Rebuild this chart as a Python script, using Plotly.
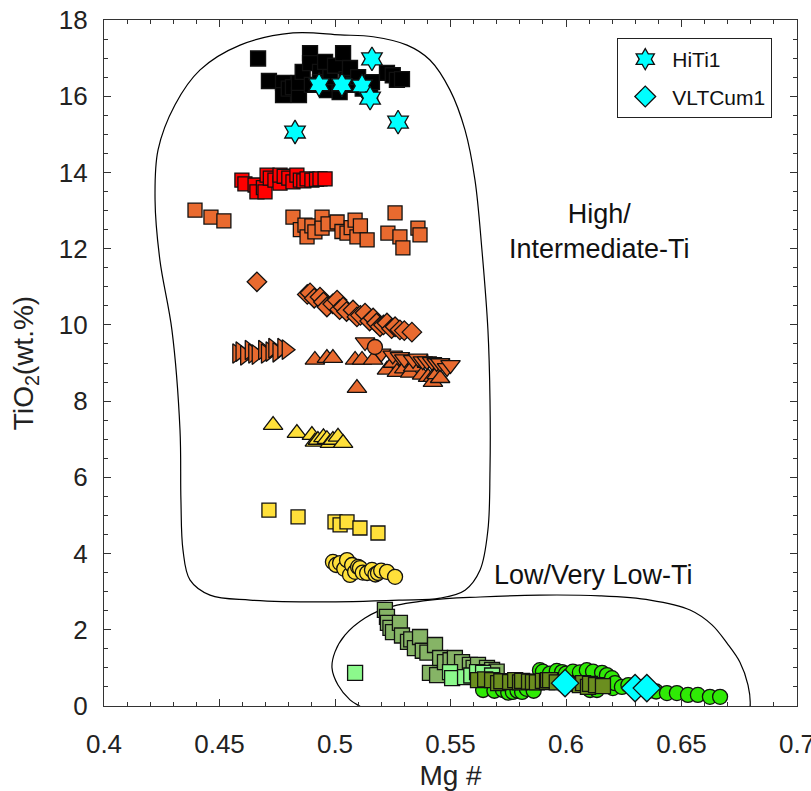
import plotly.graph_objects as go

# ---- sample groups: Mg# (x) vs TiO2 wt.% (y) ----
black_sq_x = [0.4667, 0.4714, 0.4775, 0.4775, 0.4800, 0.4818, 0.4844, 0.4844, 0.4860, 0.4892,
              0.4892, 0.4900, 0.4935, 0.4935, 0.4957, 0.4965, 0.4980, 0.5000, 0.5020, 0.5035,
              0.5050, 0.5065, 0.5080, 0.5100, 0.5120, 0.5152, 0.5160, 0.5225, 0.5250, 0.5268, 0.5290]
black_sq_y = [16.99, 16.40, 16.35, 16.03, 16.20, 16.24, 16.03, 16.35, 16.64, 17.13,
              16.87, 16.30, 16.64, 16.37, 16.90, 16.16, 16.50, 16.80, 16.11, 17.13,
              16.45, 16.74, 16.30, 16.50, 16.20, 16.11, 16.37, 16.61, 16.55, 16.43, 16.45]

hiti1_x = [0.4827, 0.4931, 0.5030, 0.5117, 0.5152, 0.5160, 0.5273]
hiti1_y = [15.06, 16.30, 16.30, 16.27, 15.95, 16.98, 15.32]

red_sq_x = [0.4597, 0.4610, 0.4654, 0.4662, 0.4690, 0.4697, 0.4706, 0.4720, 0.4740, 0.4762, 0.4762,
            0.4780, 0.4800, 0.4818, 0.4835, 0.4850, 0.4865, 0.4879, 0.4900, 0.4920, 0.4935, 0.4957]
red_sq_y = [13.80, 13.70, 13.67, 13.49, 13.60, 13.49, 13.93, 13.85, 13.80, 13.72, 13.93,
            13.90, 13.85, 13.75, 13.93, 13.80, 13.78, 13.83, 13.80, 13.82, 13.83, 13.83]

orange_sq_x = [0.4394, 0.4463, 0.4519, 0.4818, 0.4850, 0.4870, 0.4879, 0.4900, 0.4913, 0.4944, 0.4944,
               0.4970, 0.5009, 0.5030, 0.5052, 0.5070, 0.5087, 0.5095, 0.5110, 0.5139, 0.5229,
               0.5260, 0.5281, 0.5294, 0.5359, 0.5368]
orange_sq_y = [13.01, 12.83, 12.73, 12.83, 12.50, 12.62, 12.31, 12.60, 12.44, 12.83, 12.54,
               12.65, 12.70, 12.45, 12.41, 12.55, 12.75, 12.31, 12.60, 12.23, 12.41,
               12.94, 12.31, 12.02, 12.54, 12.36]

orange_dia_x = [0.4662, 0.4880, 0.4892, 0.4910, 0.4935, 0.4950, 0.4965, 0.4990, 0.5009, 0.5020,
                0.5035, 0.5050, 0.5078, 0.5095, 0.5110, 0.5130, 0.5150, 0.5165, 0.5180, 0.5195,
                0.5210, 0.5225, 0.5245, 0.5260, 0.5281, 0.5300, 0.5333]
orange_dia_y = [11.13, 10.80, 10.84, 10.70, 10.73, 10.60, 10.47, 10.55, 10.65, 10.40,
                10.47, 10.35, 10.39, 10.21, 10.25, 10.31, 10.10, 10.18, 10.05, 9.95,
                10.00, 10.05, 9.90, 9.95, 9.87, 9.85, 9.81]

orange_tri_r_x = [0.4576, 0.4590, 0.4610, 0.4630, 0.4645, 0.4660, 0.4688, 0.4700, 0.4720, 0.4732,
                  0.4750, 0.4771, 0.4790]
orange_tri_r_y = [9.25, 9.30, 9.20, 9.34, 9.25, 9.22, 9.34, 9.25, 9.30, 9.39, 9.28, 9.39, 9.35]

orange_tri_u_x = [0.4913, 0.4965, 0.4991, 0.5087, 0.5095, 0.5117, 0.5165, 0.5225, 0.5251, 0.5268,
                  0.5300, 0.5325, 0.5338, 0.5377, 0.5398, 0.5403, 0.5424, 0.5424, 0.5440, 0.5455]
orange_tri_u_y = [9.08, 9.13, 9.13, 9.08, 8.34, 9.08, 9.08, 8.82, 9.00, 8.76,
                  8.85, 8.74, 8.90, 8.69, 9.00, 8.63, 8.63, 8.50, 8.70, 8.60]

orange_tri_d_x = [0.5130, 0.5200, 0.5250, 0.5281, 0.5300, 0.5338, 0.5360, 0.5380, 0.5398, 0.5420,
                  0.5440, 0.5455, 0.5485, 0.5500]
orange_tri_d_y = [9.55, 9.25, 9.20, 9.16, 9.10, 9.08, 9.12, 9.05, 9.05, 9.03, 9.00, 9.00, 8.87, 8.95]

orange_circ_x = [0.5173]
orange_circ_y = [9.42]

yellow_tri_x = [0.4732, 0.4835, 0.4900, 0.4913, 0.4926, 0.4950, 0.4965, 0.4978, 0.4991, 0.5013, 0.5035]
yellow_tri_y = [7.37, 7.16, 7.11, 6.93, 6.98, 7.05, 7.00, 6.90, 6.98, 7.06, 6.90]

yellow_sq_x = [0.4714, 0.4840, 0.5000, 0.5022, 0.5052, 0.5108, 0.5186]
yellow_sq_y = [5.14, 4.96, 4.83, 4.75, 4.83, 4.67, 4.54]

yellow_circ_x = [0.4991, 0.5005, 0.5022, 0.5040, 0.5052, 0.5065, 0.5074, 0.5087, 0.5100, 0.5108,
                 0.5120, 0.5139, 0.5160, 0.5175, 0.5186, 0.5200, 0.5225, 0.5260]
yellow_circ_y = [3.78, 3.70, 3.75, 3.60, 3.83, 3.44, 3.70, 3.52, 3.65, 3.62,
                 3.50, 3.49, 3.57, 3.45, 3.49, 3.55, 3.52, 3.39]

green_circ_x = [0.5641, 0.5690, 0.5727, 0.5750, 0.5770, 0.5790, 0.5810, 0.5830, 0.5860, 0.5887,
                0.5900, 0.5930, 0.5960, 0.5983, 0.6000, 0.6030, 0.6060, 0.6090, 0.6104, 0.6117,
                0.6134, 0.6156, 0.6177, 0.6199, 0.6203, 0.6212, 0.6242, 0.6270, 0.6300, 0.6330,
                0.6360, 0.6390, 0.6437, 0.6480, 0.6528, 0.6571, 0.6623, 0.6667]
green_circ_y = [0.42, 0.40, 0.42, 0.35, 0.37, 0.40, 0.37, 0.45, 0.40, 0.94,
                0.90, 0.85, 0.92, 0.89, 0.85, 0.90, 0.88, 0.94, 0.42, 0.90,
                0.42, 0.87, 0.81, 0.73, 0.47, 0.60, 0.50, 0.55, 0.45, 0.50,
                0.40, 0.38, 0.34, 0.34, 0.29, 0.29, 0.24, 0.24]

sage_sq_x = [0.5216, 0.5225, 0.5229, 0.5240, 0.5251, 0.5281, 0.5290, 0.5316, 0.5330, 0.5346,
             0.5368, 0.5380, 0.5400, 0.5411, 0.5433, 0.5442, 0.5455, 0.5476, 0.5500, 0.5519,
             0.5550, 0.5584, 0.5600, 0.5619, 0.5658, 0.5680, 0.5700]
sage_sq_y = [2.52, 2.34, 2.18, 2.05, 1.94, 2.18, 1.85, 1.68, 1.75, 1.52,
             1.81, 1.45, 1.40, 0.87, 1.60, 0.81, 1.26, 1.15, 1.20, 1.26,
             1.15, 1.08, 1.00, 1.08, 1.00, 0.95, 0.90]

light_sq_x = [0.5087, 0.5498, 0.5507, 0.5563, 0.5590, 0.5615, 0.5641, 0.5680]
light_sq_y = [0.87, 0.89, 0.73, 0.76, 0.80, 0.89, 0.87, 0.80]

olive_sq_x = [0.5619, 0.5650, 0.5680, 0.5706, 0.5720, 0.5758, 0.5780, 0.5801, 0.5810, 0.5840,
              0.5857, 0.5874, 0.5900, 0.5918, 0.5922, 0.5931, 0.5960, 0.6000, 0.6030, 0.6060,
              0.6074, 0.6095, 0.6104, 0.6130, 0.6160]
olive_sq_y = [0.68, 0.70, 0.68, 0.60, 0.65, 0.63, 0.68, 0.62, 0.66, 0.64,
              0.63, 0.62, 0.66, 0.63, 0.68, 0.68, 0.62, 0.60, 0.58, 0.55,
              0.60, 0.50, 0.58, 0.55, 0.52]

vltcum1_x = [0.5996, 0.6299, 0.6350]
vltcum1_y = [0.60, 0.47, 0.47]

# ---- field outlines (data units) ----
high_ti_field_x = [0.4818, 0.5022, 0.5165, 0.5312, 0.5411, 0.5498, 0.5563, 0.5606, 0.5636, 0.5662,
                   0.5671, 0.5671, 0.5662, 0.5628, 0.5563, 0.5455, 0.5281, 0.4935, 0.4632, 0.4459,
                   0.4372, 0.4342, 0.4333, 0.4329, 0.4294, 0.4242, 0.4221, 0.4234, 0.4307, 0.4416,
                   0.4589, 0.4818]
high_ti_field_y = [17.66, 17.61, 17.56, 17.34, 16.95, 16.16, 15.11, 13.80, 11.97, 9.87,
                   8.03, 6.19, 4.62, 3.57, 3.04, 2.83, 2.78, 2.73, 2.78, 2.91,
                   3.31, 4.09, 5.41, 7.24, 9.87, 11.70, 13.28, 14.59, 15.77, 16.69,
                   17.34, 17.66]

low_ti_field_x = [0.5887, 0.6147, 0.6364, 0.6537, 0.6632, 0.6697, 0.6753, 0.6788, 0.6797, 0.6775,
                  0.6667, 0.6364, 0.5714, 0.5281, 0.5130, 0.5065, 0.5013, 0.4987, 0.5000, 0.5043,
                  0.5130, 0.5238, 0.5411, 0.5628, 0.5887]
low_ti_field_y = [2.91, 2.89, 2.78, 2.52, 2.13, 1.65, 1.15, 0.55, 0.00, -0.50,
                  -0.90, -1.29, -1.42, -1.02, -0.10, 0.16, 0.55, 1.00, 1.42, 1.86,
                  2.31, 2.60, 2.78, 2.86, 2.91]

x_ticks = [0.4, 0.45, 0.5, 0.55, 0.6, 0.65, 0.7]
x_tick_text = ["0.4", "0.45", "0.5", "0.55", "0.6", "0.65", "0.7"]
y_ticks = [0, 2, 4, 6, 8, 10, 12, 14, 16, 18]

FONT = "Liberation Sans, Arial, sans-serif"
EDGE = dict(color="#111111", width=1.3)
ORANGE = "#E96A2F"
YELLOW = "#FFE03A"

fig = go.Figure()

# outlines
for fx, fy in [(high_ti_field_x, high_ti_field_y), (low_ti_field_x, low_ti_field_y)]:
    fig.add_trace(go.Scatter(x=fx, y=fy, mode="lines", line=dict(color="black", width=1.2, shape="spline"),
                             hoverinfo="skip", showlegend=False))


def group(x, y, symbol, color, size, name=None, legend=False):
    fig.add_trace(go.Scatter(
        x=x, y=y, mode="markers", name=name, showlegend=legend, legendgroup=name,
        marker=dict(symbol=symbol, color=color, size=size, line=EDGE),
    ))


group(black_sq_x, black_sq_y, "square", "black", 15)
group(red_sq_x, red_sq_y, "square", "#FF0000", 14)
group(orange_sq_x, orange_sq_y, "square", ORANGE, 14)
group(orange_tri_r_x, orange_tri_r_y, "triangle-right", ORANGE, 17)
group(orange_tri_u_x, orange_tri_u_y, "triangle-up", ORANGE, 17)
group(orange_tri_d_x, orange_tri_d_y, "triangle-down", ORANGE, 17)
group(orange_dia_x, orange_dia_y, "diamond", ORANGE, 15)
group(orange_circ_x, orange_circ_y, "circle", ORANGE, 15)
group(yellow_tri_x, yellow_tri_y, "triangle-up", YELLOW, 17)
group(yellow_sq_x, yellow_sq_y, "square", YELLOW, 14)
group(yellow_circ_x, yellow_circ_y, "circle", YELLOW, 15)
group(green_circ_x, green_circ_y, "circle", "#2FEA05", 15)
group(sage_sq_x, sage_sq_y, "square", "#86B466", 15)
group(light_sq_x, light_sq_y, "square", "#8CF98C", 15)
group(olive_sq_x, olive_sq_y, "square", "#6B8E1F", 15)
group(hiti1_x, hiti1_y, "hexagram", "#00FFFF", 18, name="HiTi1", legend=True)
group(vltcum1_x, vltcum1_y, "diamond", "#00FFFF", 21, name="VLTCum1", legend=True)

fig.add_annotation(x=0.6147, y=12.44, text="High/<br>Intermediate-Ti", showarrow=False,
                   font=dict(family=FONT, size=27, color="#111"), align="center")
fig.add_annotation(x=0.6117, y=3.44, text="Low/Very Low-Ti", showarrow=False,
                   font=dict(family=FONT, size=27, color="#111"))

axis_common = dict(showline=True, linecolor="#333", linewidth=1.2, mirror="ticks", ticks="inside",
                   ticklen=7, tickwidth=1, tickcolor="#333", showgrid=False, zeroline=False,
                   ticklabeloverflow="allow", automargin=False,
                   tickfont=dict(family=FONT, size=26, color="#222"))

fig.update_xaxes(range=[0.4, 0.7], tickvals=x_ticks, ticktext=x_tick_text,
                 minor=dict(ticks="inside", ticklen=4, dtick=0.01, tickcolor="#333"),
                 title=dict(text="Mg #", font=dict(family=FONT, size=28, color="#222"), standoff=16),
                 ticklabelstandoff=15, **axis_common)
fig.update_yaxes(range=[0, 18], tickvals=y_ticks,
                 minor=dict(ticks="inside", ticklen=4, dtick=0.5, tickcolor="#333"),
                 title=dict(text="TiO<sub>2</sub>(wt.%)", font=dict(family=FONT, size=28, color="#222"),
                            standoff=16),
                 ticklabelstandoff=10, **axis_common)

fig.update_layout(
    width=811, height=791,
    margin=dict(l=104, r=14, t=20, b=85, autoexpand=False),
    plot_bgcolor="white", paper_bgcolor="white",
    font=dict(family=FONT),
    legend=dict(x=0.964, y=0.974, xanchor="right", yanchor="top", bgcolor="white",
                bordercolor="#222", borderwidth=1.2, font=dict(family=FONT, size=21, color="#111"),
                itemsizing="trace", itemwidth=44, tracegroupgap=7),
)

fig.write_html("out.html")
